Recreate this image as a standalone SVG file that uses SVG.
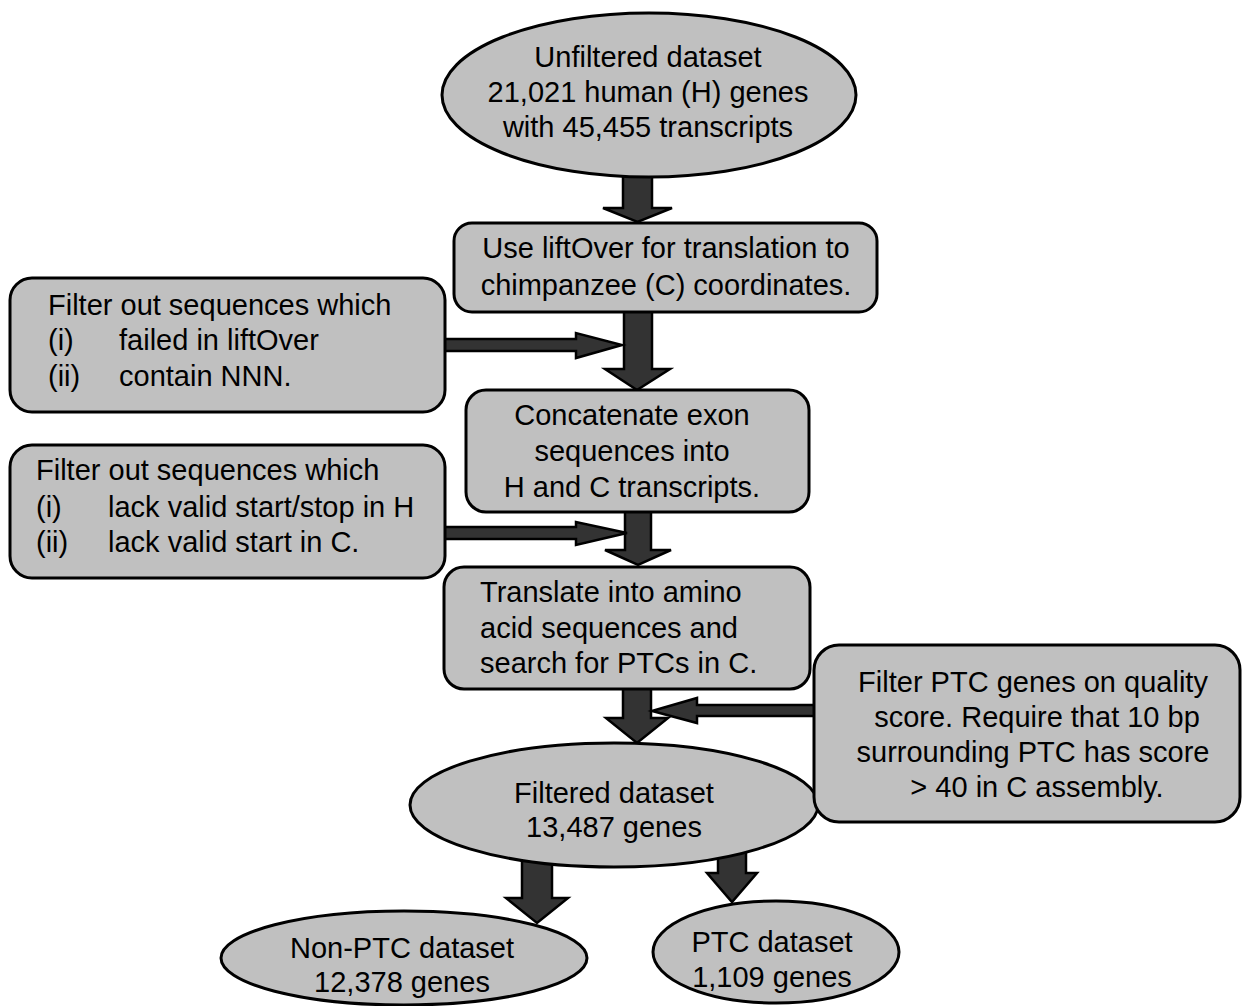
<svg xmlns="http://www.w3.org/2000/svg" width="1242" height="1006" viewBox="0 0 1242 1006">
<style>
  .node { fill: #c0c0c0; stroke: #000; stroke-width: 3; }
  .arrow { fill: #333333; stroke: #000; stroke-width: 2.5; stroke-linejoin: miter; }
  text { font-family: "Liberation Sans", Arial, sans-serif; font-size: 29px; fill: #000; }
  .c { text-anchor: middle; }
</style>
<rect x="0" y="0" width="1242" height="1006" fill="#ffffff"/>
<g id="connectors">
  <polygon class="arrow" points="623,170 652,170 652,208 672,208 637.5,222 603,208 623,208"/>
  <polygon class="arrow" points="624,305 652,305 652,369 670,369 637,390 605,369 624,369"/>
  <polygon class="arrow" points="625,505 651,505 651,550 671,550 638,565 605,550 625,550"/>
  <polygon class="arrow" points="623,682 651,682 651,718 668,718 637,743 606,718 623,718"/>
  <polygon class="arrow" points="522,850 552,850 552,898 568,898 537,923 506,898 522,898"/>
  <polygon class="arrow" points="718,845 746,845 746,873 757,873 732,902 707,873 718,873"/>
  <polygon class="arrow" points="430,339 576,339 576,333 622,345 576,358 576,351 430,351"/>
  <polygon class="arrow" points="430,527 576,527 576,522 627,533 576,545 576,539 430,539"/>
  <polygon class="arrow" points="830,705 697,705 697,698 652,711 697,723 697,716 830,716"/>
</g>
<g id="unfiltered">
  <ellipse class="node" cx="649" cy="95" rx="207" ry="82"/>
  <text class="c" x="648" y="67">Unfiltered dataset</text>
  <text class="c" x="648" y="102">21,021 human (H) genes</text>
  <text class="c" x="648" y="137">with 45,455 transcripts</text>
</g>
<g id="liftover">
  <rect class="node" x="454" y="223" width="423" height="89" rx="18"/>
  <text class="c" x="666" y="258">Use liftOver for translation to</text>
  <text class="c" x="666" y="295">chimpanzee (C) coordinates.</text>
</g>
<g id="filter1">
  <rect class="node" x="10" y="278" width="435" height="134" rx="22"/>
  <text x="48" y="315">Filter out sequences which</text>
  <text x="48" y="350">(i)</text>
  <text x="119" y="350">failed in liftOver</text>
  <text x="48" y="386">(ii)</text>
  <text x="119" y="386">contain NNN.</text>
</g>
<g id="concatenate">
  <rect class="node" x="466" y="390" width="343" height="122" rx="20"/>
  <text class="c" x="632" y="425">Concatenate exon</text>
  <text class="c" x="632" y="461">sequences into</text>
  <text class="c" x="632" y="497">H and C transcripts.</text>
</g>
<g id="filter2">
  <rect class="node" x="10" y="445" width="435" height="133" rx="22"/>
  <text x="36" y="480">Filter out sequences which</text>
  <text x="36" y="517">(i)</text>
  <text x="108" y="517">lack valid start/stop in H</text>
  <text x="36" y="552">(ii)</text>
  <text x="108" y="552">lack valid start in C.</text>
</g>
<g id="translate">
  <rect class="node" x="444" y="567" width="366" height="122" rx="20"/>
  <text x="480" y="602">Translate into amino</text>
  <text x="480" y="638">acid sequences and</text>
  <text x="480" y="673">search for PTCs in C.</text>
</g>
<g id="filtered">
  <ellipse class="node" cx="614" cy="805" rx="204" ry="62"/>
  <text class="c" x="614" y="803">Filtered dataset</text>
  <text class="c" x="614" y="837">13,487 genes</text>
</g>
<g id="filter3">
  <rect class="node" x="814" y="645" width="426" height="177" rx="25"/>
  <text class="c" x="1033" y="692">Filter PTC genes on quality</text>
  <text class="c" x="1037" y="727">score. Require that 10 bp</text>
  <text class="c" x="1033" y="762">surrounding PTC has score</text>
  <text class="c" x="1037" y="797">&gt; 40 in C assembly.</text>
</g>
<g id="nonptc">
  <ellipse class="node" cx="404" cy="958" rx="183" ry="47"/>
  <text class="c" x="402" y="958">Non-PTC dataset</text>
  <text class="c" x="402" y="992">12,378 genes</text>
</g>
<g id="ptc">
  <ellipse class="node" cx="776" cy="952" rx="123" ry="51"/>
  <text class="c" x="772" y="952">PTC dataset</text>
  <text class="c" x="772" y="987">1,109 genes</text>
</g>
</svg>
